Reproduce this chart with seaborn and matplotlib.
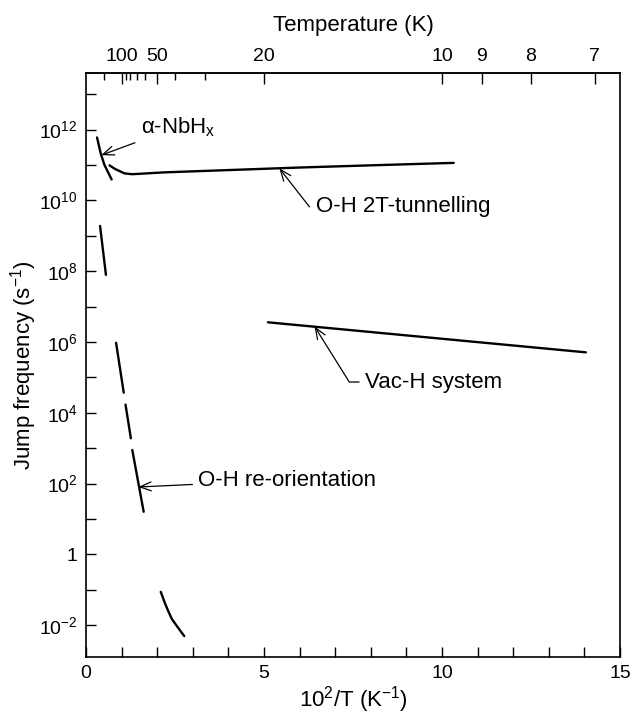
import numpy as np
import pandas as pd
import matplotlib
matplotlib.use("Agg")
import matplotlib.pyplot as plt
import seaborn as sns
from matplotlib.ticker import FixedLocator, NullFormatter

# ---- data (x = 10^2/T in K^-1, y = jump frequency in s^-1) ----
nbh_x = [0.31, 0.42, 0.52, 0.72]
nbh_y = [6.0e11, 2.0e11, 1.0e11, 3.9e10]

tun_x = [0.66, 0.80, 1.08, 1.30, 2.2, 4.0, 6.0, 8.0, 10.33]
tun_y = [9.8e10, 7.9e10, 5.8e10, 5.5e10, 6.2e10, 7.2e10, 8.5e10, 9.8e10, 1.15e11]

vac_x = [5.11, 14.04]
vac_y = [3.6e6, 5.1e5]

reo_x = [0.395, 0.56, 0.845, 1.06, 1.11, 1.26, 1.30, 1.62, 2.10, 2.16, 2.22, 2.31, 2.41, 2.57, 2.76]
reo_y = [1.9e9, 7.9e7, 9.5e5, 3.7e4, 1.7e4, 1.9e3, 8.9e2, 16, 0.087, 0.060, 0.041, 0.025, 0.015, 0.0089, 0.0049]
reo_seg = [1, 1, 2, 2, 3, 3, 4, 4, 5, 5, 5, 5, 5, 5, 5]

ytick_vals = [1e-2, 1e0, 1e2, 1e4, 1e6, 1e8, 1e10, 1e12]
ytick_labels = ["10$^{-2}$", "1", "10$^{2}$", "10$^{4}$", "10$^{6}$", "10$^{8}$", "10$^{10}$", "10$^{12}$"]
ytick_minor = [1e-1, 1e1, 1e3, 1e5, 1e7, 1e9, 1e11, 1e13]
xtick_major = [0, 5, 10, 15]
xtick_minor = [1, 2, 3, 4, 6, 7, 8, 9, 11, 12, 13, 14]
temp_major = [100, 50, 20, 10, 9, 8, 7]
temp_minor = [200, 90, 80, 70, 60, 40, 30]

# ---- build a long table ----
frames = [
    pd.DataFrame({"x": nbh_x, "y": nbh_y, "curve": "nbh", "seg": 0}),
    pd.DataFrame({"x": tun_x, "y": tun_y, "curve": "tun", "seg": 0}),
    pd.DataFrame({"x": vac_x, "y": vac_y, "curve": "vac", "seg": 0}),
    pd.DataFrame({"x": reo_x, "y": reo_y, "curve": "reo", "seg": reo_seg}),
]
df = pd.concat(frames, ignore_index=True)
df["unit"] = df["curve"] + df["seg"].astype(str)

sns.set_theme(style="ticks")
plt.rcParams["font.family"] = ["Liberation Sans", "DejaVu Sans"]
plt.rcParams["mathtext.fontset"] = "custom"
plt.rcParams["mathtext.rm"] = "Liberation Sans"
plt.rcParams["mathtext.it"] = "Liberation Sans:italic"
plt.rcParams["mathtext.bf"] = "Liberation Sans:bold"
plt.rcParams["text.color"] = "black"
plt.rcParams["axes.labelcolor"] = "black"
plt.rcParams["xtick.color"] = "black"
plt.rcParams["ytick.color"] = "black"

fig = plt.figure(figsize=(6.31, 7.15), dpi=100)
ax = fig.add_axes([86 / 631, 1 - 657 / 715, (620 - 86) / 631, (657 - 73) / 715])
ax.set_yscale("log")

sns.lineplot(data=df, x="x", y="y", units="unit", estimator=None, sort=False,
             color="black", linewidth=1.7, legend=False, ax=ax)

ax.set_xlim(0, 15)
ax.set_ylim(10 ** -2.9, 10 ** 13.6)

for s in ax.spines.values():
    s.set_visible(True)
    s.set_linewidth(1.2)
    s.set_color("black")

ax.set_xticks(xtick_major, labels=[str(v) for v in xtick_major])
ax.xaxis.set_minor_locator(FixedLocator(xtick_minor))
ax.xaxis.set_minor_formatter(NullFormatter())
ax.set_yticks(ytick_vals, labels=ytick_labels)
ax.yaxis.set_minor_locator(FixedLocator(ytick_minor))
ax.yaxis.set_minor_formatter(NullFormatter())

ax.tick_params(axis="both", which="both", direction="in", length=7, width=1.0,
               color="black", labelsize=14, pad=6, labelcolor="black")
ax.tick_params(right=False, top=False, which="both")

# top temperature axis
def inv(v):
    v = np.asarray(v, dtype=float)
    return 100.0 / np.clip(v, 1e-3, None)

sec = ax.secondary_xaxis("top", functions=(inv, inv))
sec.set_xticks(temp_major, labels=[str(t) for t in temp_major])
sec.xaxis.set_minor_locator(FixedLocator(temp_minor))
sec.xaxis.set_minor_formatter(NullFormatter())
sec.tick_params(axis="x", which="major", direction="in", length=8, width=1.0,
                labelsize=14, pad=6, colors="black")
sec.tick_params(axis="x", which="minor", direction="in", length=5, width=1.0, colors="black")
sec.spines["top"].set_linewidth(1.2)
sec.set_xlabel("Temperature (K)", fontsize=16, labelpad=12, color="black")

ax.set_xlabel("10$^{2}$/T (K$^{-1}$)", fontsize=16, labelpad=1)
ax.set_ylabel("Jump frequency (s$^{-1}$)", fontsize=16, labelpad=0)

# annotations
arrow = dict(arrowstyle="->,head_length=0.5,head_width=0.2", color="black",
             lw=0.9, shrinkA=2, shrinkB=0)
ax.annotate("α-NbH$_\\mathrm{x}$", xy=(0.43, 1.9e11), xytext=(1.54, 1.2e12),
            ha="left", va="center", fontsize=16, arrowprops=arrow)
ax.annotate("O-H 2T-tunnelling", xy=(5.43, 8.1e10), xytext=(6.45, 6.6e9),
            ha="left", va="center", fontsize=16,
            arrowprops=dict(arrow, connectionstyle="angle,angleA=0,angleB=-52,rad=0"))
ax.annotate("Vac-H system", xy=(6.42, 2.75e6), xytext=(7.84, 7.4e4),
            ha="left", va="center", fontsize=16,
            arrowprops=dict(arrow, connectionstyle="angle,angleA=0,angleB=-58,rad=0"))
ax.annotate("O-H re-orientation", xy=(1.47, 80), xytext=(3.16, 126),
            ha="left", va="center", fontsize=16, arrowprops=arrow)

fig.savefig("out.png", dpi=100)
